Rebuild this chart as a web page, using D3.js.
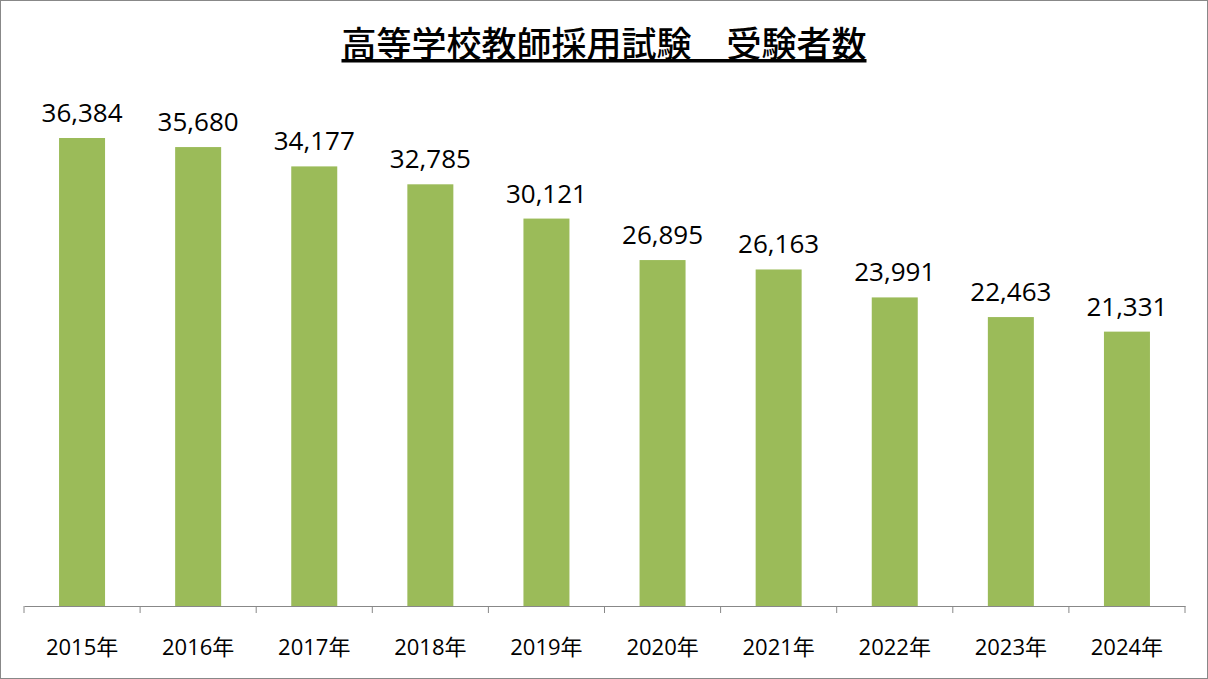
<!DOCTYPE html>
<html><head><meta charset="utf-8">
<script src="https://cdn.jsdelivr.net/npm/d3@7"></script>
<style>body{margin:0;background:#fff}</style>
</head><body><svg></svg>
<script>
let years = ['2015年','2016年','2017年','2018年','2019年','2020年','2021年','2022年','2023年','2024年']
let counts = [36384,35680,34177,32785,30121,26895,26163,23991,22463,21331]

let width = 1208
let height = 679
let svg = d3.select('svg').attr('width', width).attr('height', height)
let font = '"Open Sans", "Noto Sans CJK JP", sans-serif'

svg.append('rect').attr('x',0.5).attr('y',0.5).attr('width',width-1).attr('height',height-1)
    .attr('fill','#fff').attr('stroke','#888')

svg.append('text').attr('x',604).attr('y',57).attr('text-anchor','middle')
    .attr('font-family','"Noto Sans CJK JP", sans-serif').attr('font-size',35).attr('font-weight',500)
    .attr('text-decoration','underline')
    .text('高等学校教師採用試験　受験者数')

let xScale = d3.scaleBand().domain(years).range([24,1185]).paddingInner(0).paddingOuter(0)
let yScale = d3.scaleLinear().domain([0,40000]).range([606,91.5])
let barW = 46

svg.selectAll('.bar').data(counts).enter().append('rect')
    .attr('x',(d,i) => xScale(years[i]) + xScale.bandwidth()/2 - barW/2)
    .attr('y',d => yScale(d))
    .attr('width',barW)
    .attr('height',d => 606 - yScale(d))
    .attr('fill','#9BBB59')

svg.selectAll('.lbl').data(counts).enter().append('text')
    .attr('x',(d,i) => xScale(years[i]) + xScale.bandwidth()/2)
    .attr('y',d => yScale(d) - 16)
    .attr('text-anchor','middle')
    .attr('font-family',font).attr('font-size',26)
    .text(d => d3.format(',')(d))

let xAxis = d3.axisBottom(xScale).tickSize(0).tickPadding(0)
let g = svg.append('g').attr('transform','translate(0,606)').call(xAxis)
g.select('.domain').attr('stroke','#888')
g.selectAll('text').attr('font-family',font).attr('font-size',22).attr('fill','#000').attr('dy',0).attr('y',49)
// boundary ticks
let bounds = years.map(y => xScale(y)).concat([1185])
g.selectAll('.bt').data(bounds).enter().append('line')
    .attr('x1',d => d).attr('x2',d => d).attr('y1',0).attr('y2',7).attr('stroke','#888')
</script>
</body></html>
